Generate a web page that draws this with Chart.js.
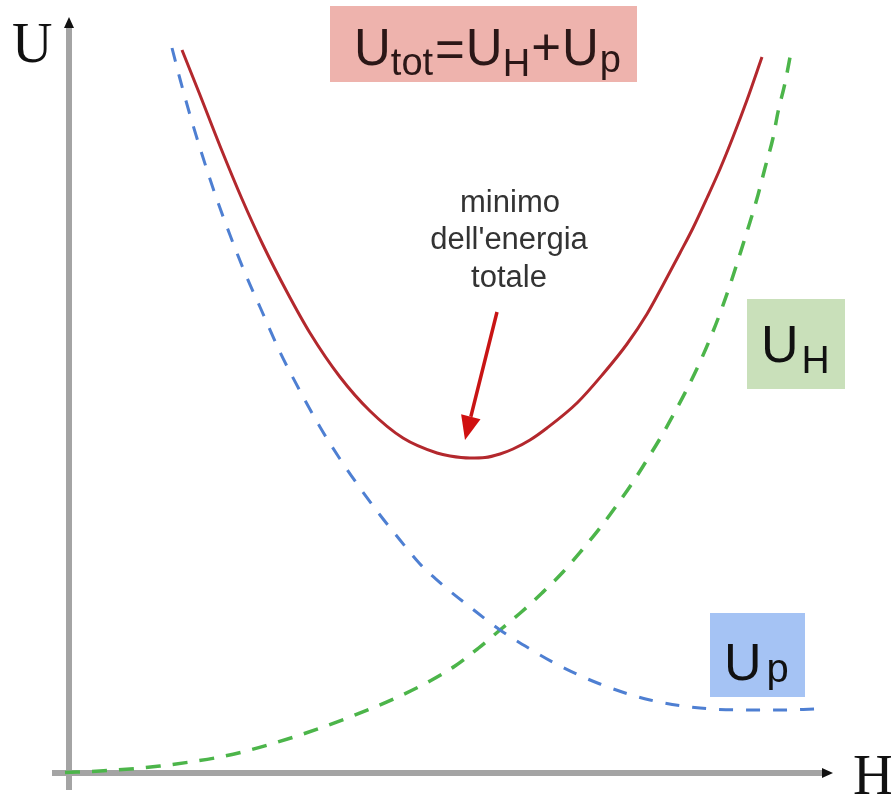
<!DOCTYPE html>
<html>
<head>
<meta charset="utf-8">
<script src="https://cdn.jsdelivr.net/npm/chart.js@4.4.1/dist/chart.umd.min.js"></script>
<style>
  html, body { margin: 0; padding: 0; background: #ffffff; }
  #wrap { width: 891px; height: 794px; position: relative; }
</style>
</head>
<body>
<div id="wrap"><canvas id="c"></canvas></div>
<script>
// ---- data (H = generalised coordinate, U = energy, arbitrary units) ----
const hTot = [11.3, 13.1, 15.1, 17.3, 19.4, 21.8, 24.1, 27.1, 30.1, 33.4, 36.8, 38.1, 40.1, 41.6, 43.1, 44.4, 46.1, 47.8, 50.8, 53.4, 55.8, 57.8, 59.4, 61.1, 62.4, 63.8, 65.1, 66.4, 67.8, 69.3];
const uTot = [72.3, 67.8, 62.7, 57.4, 52.8, 48.1, 44.0, 39.6, 36.2, 33.5, 32.0, 31.7, 31.5, 31.55, 31.9, 32.4, 33.3, 34.5, 37.0, 39.9, 42.9, 45.9, 48.8, 52.0, 54.5, 57.5, 60.4, 63.6, 67.3, 71.6];

const hP = [10.3, 11.1, 12.1, 13.1, 14.6, 16.1, 17.6, 19.1, 21.1, 23.1, 25.1, 27.1, 29.1, 31.1, 33.1, 35.1, 37.6, 40.1, 43.1, 46.1, 49.1, 53.1, 58.1, 63.1, 68.1, 71.1, 74.6];
const uP = [72.5, 69.4, 65.8, 62.5, 57.9, 53.8, 50.0, 46.6, 42.1, 38.2, 34.6, 31.4, 28.5, 25.8, 23.3, 20.9, 18.6, 16.6, 14.3, 12.4, 10.7, 8.9, 7.3, 6.5, 6.3, 6.3, 6.4];

const hH = [-0.4, 3.1, 6.1, 9.1, 12.1, 15.1, 18.1, 23.1, 28.1, 33.1, 36.1, 38.6, 40.9, 43.1, 45.3, 47.3, 49.4, 51.3, 53.1, 54.8, 56.4, 58.1, 59.4, 60.8, 61.9, 63.1, 64.3, 65.3, 66.3, 67.1, 68.1, 68.9, 69.6, 70.4, 70.9, 71.6, 72.2];
const uH = [0.05, 0.2, 0.4, 0.7, 1.1, 1.6, 2.3, 3.8, 5.6, 7.7, 9.2, 10.7, 12.45, 14.3, 16.15, 18.0, 20.1, 22.3, 24.5, 26.8, 29.1, 31.8, 33.95, 36.5, 38.6, 41.1, 43.9, 46.5, 49.4, 51.9, 55.1, 57.8, 60.5, 63.5, 66.1, 69.0, 72.1];

const seriesNames = ['U_tot', 'U_p', 'U_H'];
const axisNames = ['U', 'H'];
const annotationLines = ['minimo', "dell'energia", 'totale'];

// ---- helpers ----
const toPts = (xs, ys) => xs.map((x, i) => ({ x: x, y: ys[i] }));

function drawRich(ctx, x, baseline, parts, color) {
  ctx.save();
  ctx.fillStyle = color;
  ctx.textBaseline = 'alphabetic';
  ctx.textAlign = 'left';
  let cx = x;
  parts.forEach(p => {
    ctx.font = p.size + 'px "Liberation Sans", Arial, sans-serif';
    ctx.fillText(p.t, cx + (p.gap || 0), baseline + (p.dy || 0));
    cx += (p.gap || 0) + ctx.measureText(p.t).width;
  });
  ctx.restore();
}

const decorPlugin = {
  id: 'decor',
  beforeDatasetsDraw(chart) {
    const ctx = chart.ctx;
    const xs = chart.scales.x, ys = chart.scales.y;
    const x0 = xs.getPixelForValue(0), y0 = ys.getPixelForValue(0);
    ctx.save();
    // axes
    ctx.strokeStyle = '#a4a4a4';
    ctx.lineWidth = 6;
    ctx.lineCap = 'butt';
    ctx.beginPath();
    ctx.moveTo(x0, ys.getPixelForValue(-1.7));
    ctx.lineTo(x0, ys.getPixelForValue(74.8));
    ctx.moveTo(xs.getPixelForValue(-1.7), y0);
    ctx.lineTo(xs.getPixelForValue(75.4), y0);
    ctx.stroke();
    // arrow heads
    ctx.fillStyle = '#111111';
    const vt = ys.getPixelForValue(75.6);
    ctx.beginPath();
    ctx.moveTo(x0, vt);
    ctx.lineTo(x0 - 5, vt + 11);
    ctx.lineTo(x0 + 5, vt + 11);
    ctx.closePath();
    ctx.fill();
    const ht = xs.getPixelForValue(76.4);
    ctx.beginPath();
    ctx.moveTo(ht, y0);
    ctx.lineTo(ht - 11, y0 - 5);
    ctx.lineTo(ht - 11, y0 + 5);
    ctx.closePath();
    ctx.fill();

    // coloured label boxes
    ctx.fillStyle = '#eeb3ad';
    ctx.fillRect(330, 6, 307, 76);
    ctx.fillStyle = '#c9e0ba';
    ctx.fillRect(747, 299, 98, 90);
    ctx.fillStyle = '#a5c3f4';
    ctx.fillRect(710, 613, 95, 84);
    ctx.restore();
  },
  afterDatasetsDraw(chart) {
    const ctx = chart.ctx;
    ctx.save();
    // axis names (serif)
    ctx.fillStyle = '#111111';
    ctx.textBaseline = 'alphabetic';
    ctx.font = '56px "Liberation Serif", "Times New Roman", serif';
    ctx.textAlign = 'left';
    ctx.fillText(axisNames[0], 12, 62);
    ctx.fillText(axisNames[1], 853, 794);

    // title formula U_tot = U_H + U_p
    drawRich(ctx, 354, 65, [
      { t: 'U', size: 51 },
      { t: 'tot', size: 38, dy: 10, gap: 0 },
      { t: '=', size: 51, gap: 2, dy: 2 },
      { t: 'U', size: 51, gap: 1 },
      { t: 'H', size: 38, dy: 11, gap: 0 },
      { t: '+', size: 51, gap: 1 },
      { t: 'U', size: 51, gap: 1 },
      { t: 'p', size: 38, dy: 7, gap: 1 }
    ], '#2b1717');

    // U_H label
    drawRich(ctx, 761, 362, [
      { t: 'U', size: 52 },
      { t: 'H', size: 39, dy: 11, gap: 3 }
    ], '#111111');
    // U_p label
    drawRich(ctx, 724, 680, [
      { t: 'U', size: 52 },
      { t: 'p', size: 40, dy: 2, gap: 5 }
    ], '#111111');

    // annotation text
    ctx.fillStyle = '#333333';
    ctx.textAlign = 'center';
    ctx.font = '31px "Liberation Sans", Arial, sans-serif';
    ctx.fillText(annotationLines[0], 510, 212);
    ctx.fillText(annotationLines[1], 509, 249);
    ctx.fillText(annotationLines[2], 509, 287);

    // annotation arrow pointing to the minimum
    const sx = 497, sy = 312, tx = 465, ty = 440;
    const ang = Math.atan2(ty - sy, tx - sx);
    const hl = 24, hw = 10;
    const bx = tx - hl * Math.cos(ang), by = ty - hl * Math.sin(ang);
    ctx.strokeStyle = '#c81414';
    ctx.fillStyle = '#d01010';
    ctx.lineWidth = 3.5;
    ctx.beginPath();
    ctx.moveTo(sx, sy);
    ctx.lineTo(bx, by);
    ctx.stroke();
    ctx.beginPath();
    ctx.moveTo(tx, ty);
    ctx.lineTo(bx + hw * Math.sin(ang), by - hw * Math.cos(ang));
    ctx.lineTo(bx - hw * Math.sin(ang), by + hw * Math.cos(ang));
    ctx.closePath();
    ctx.fill();
    ctx.restore();
  }
};

new Chart(document.getElementById('c'), {
  type: 'line',
  data: {
    datasets: [
      {
        label: seriesNames[0],
        data: toPts(hTot, uTot),
        borderColor: '#b3282d',
        borderWidth: 3,
        pointRadius: 0,
        fill: false,
        cubicInterpolationMode: 'monotone'
      },
      {
        label: seriesNames[1],
        data: toPts(hP, uP),
        borderColor: '#4e7fd2',
        borderWidth: 3,
        borderDash: [14, 13],
        pointRadius: 0,
        fill: false,
        cubicInterpolationMode: 'monotone'
      },
      {
        label: seriesNames[2],
        data: toPts(hH, uH),
        borderColor: '#4cb54a',
        borderWidth: 3.5,
        borderDash: [15, 12],
        pointRadius: 0,
        fill: false,
        cubicInterpolationMode: 'monotone'
      }
    ]
  },
  options: {
    responsive: true,
    maintainAspectRatio: false,
    devicePixelRatio: 1,
    animation: false,
    layout: { padding: 0 },
    plugins: { legend: { display: false }, tooltip: { enabled: false }, title: { display: false } },
    scales: {
      x: { type: 'linear', min: -6.9, max: 82.2, display: false },
      y: { type: 'linear', min: -2.1, max: 77.3, display: false }
    }
  },
  plugins: [decorPlugin]
});
</script>
</body>
</html>
